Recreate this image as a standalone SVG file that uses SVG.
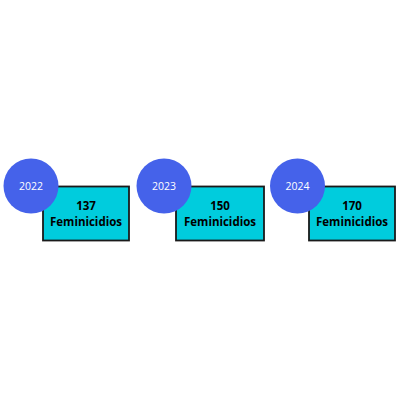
<svg xmlns="http://www.w3.org/2000/svg" width="400" height="400" viewBox="0 0 400 400">
<style>
.box{fill:#00CCDD;stroke:#1a1a1a;stroke-width:1.8}
.dot{fill:#4562EA}
.yr{font-family:"Open Sans",sans-serif;font-size:10.5px;fill:#ffffff;text-anchor:middle}
.lbl{font-family:"Open Sans",sans-serif;font-size:11.5px;font-weight:bold;fill:#000;text-anchor:middle}
</style>
<rect width="400" height="400" fill="#ffffff"/>
<g id="node-2022">
<rect class="box" x="43" y="186.5" width="86" height="54"/>
<circle class="dot" cx="31" cy="186" r="27.5"/>
<text class="yr" x="31" y="190">2022</text>
<text class="lbl" x="86" y="210">137</text>
<text class="lbl" x="86" y="226">Feminicidios</text>
</g>
<g id="node-2023">
<rect class="box" x="176" y="186.5" width="88" height="54"/>
<circle class="dot" cx="164" cy="186" r="27.5"/>
<text class="yr" x="164" y="190">2023</text>
<text class="lbl" x="220" y="210">150</text>
<text class="lbl" x="220" y="226">Feminicidios</text>
</g>
<g id="node-2024">
<rect class="box" x="309" y="186.5" width="86" height="54"/>
<circle class="dot" cx="297.5" cy="186" r="27.5"/>
<text class="yr" x="297.5" y="190">2024</text>
<text class="lbl" x="352" y="210">170</text>
<text class="lbl" x="352" y="226">Feminicidios</text>
</g>
<g id="connectors"></g>
</svg>
